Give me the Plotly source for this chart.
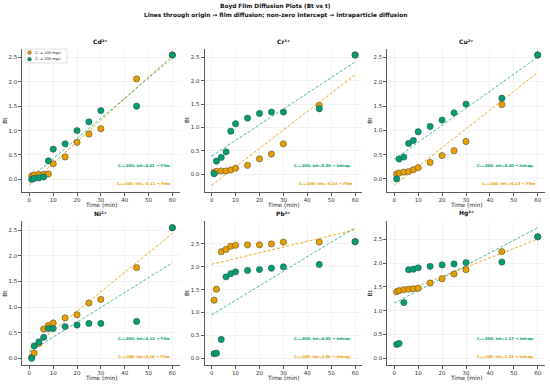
import numpy as np
import plotly.graph_objects as go

time_min = [1, 2, 4, 6, 8, 10, 15, 20, 25, 30, 45, 60]
metals = ["Cd²⁺", "Cr³⁺", "Cu²⁺", "Ni²⁺", "Pb²⁺", "Hg²⁺"]

bt_100 = {
    "Cd²⁺": [0.07, 0.09, 0.10, 0.10, 0.11, 0.32, 0.46, 0.76, 0.93, 1.04, 2.06, 2.55],
    "Cr³⁺": [0.04, 0.06, 0.07, 0.07, 0.09, 0.13, 0.19, 0.33, 0.43, 0.65, 1.47, 2.55],
    "Cu²⁺": [0.10, 0.12, 0.14, 0.15, 0.19, 0.23, 0.34, 0.48, 0.58, 0.77, 1.53, 2.55],
    "Ni²⁺": [0.02, 0.10, 0.29, 0.57, 0.64, 0.69, 0.79, 0.85, 1.08, 1.15, 1.77, 2.55],
    "Pb²⁺": [1.27, 1.51, 2.33, 2.38, 2.45, 2.47, 2.48, 2.48, 2.50, 2.54, 2.54, 2.55],
    "Hg²⁺": [1.40, 1.42, 1.44, 1.45, 1.46, 1.47, 1.58, 1.67, 1.77, 1.86, 2.24, 2.55],
}
bt_200 = {
    "Cd²⁺": [0.00, 0.02, 0.03, 0.05, 0.38, 0.62, 0.73, 1.00, 1.18, 1.41, 1.50, 2.55],
    "Cr³⁺": [0.01, 0.28, 0.36, 0.48, 0.92, 1.08, 1.20, 1.30, 1.33, 1.33, 1.40, 2.55],
    "Cu²⁺": [0.00, 0.41, 0.45, 0.73, 0.79, 0.97, 1.08, 1.21, 1.36, 1.54, 1.66, 2.55],
    "Ni²⁺": [0.00, 0.24, 0.32, 0.41, 0.58, 0.58, 0.62, 0.65, 0.68, 0.68, 0.72, 2.55],
    "Pb²⁺": [0.10, 0.11, 0.41, 1.78, 1.85, 1.89, 1.92, 1.94, 1.97, 2.00, 2.05, 2.55],
    "Hg²⁺": [0.29, 0.31, 1.17, 1.86, 1.87, 1.90, 1.93, 1.96, 1.98, 2.01, 2.02, 2.55],
}
label_200 = {
    "Cd²⁺": "C₀=200: int=0.01 → Film",
    "Cr³⁺": "C₀=200: int=0.38 → Intrap.",
    "Cu²⁺": "C₀=200: int=0.40 → Intrap.",
    "Ni²⁺": "C₀=200: int=0.12 → Film",
    "Pb²⁺": "C₀=200: int=0.95 → Intrap.",
    "Hg²⁺": "C₀=200: int=1.17 → Intrap.",
}
label_100 = {
    "Cd²⁺": "C₀=100: int=-0.11 → Film",
    "Cr³⁺": "C₀=100: int=-0.24 → Film",
    "Cu²⁺": "C₀=100: int=-0.13 → Film",
    "Ni²⁺": "C₀=100: int=0.16 → Film",
    "Pb²⁺": "C₀=100: int=2.05 → Intrap.",
    "Hg²⁺": "C₀=100: int=1.33 → Intrap.",
}
legend_labels = ["C₀ = 100 mg/L", "C₀ = 200 mg/L"]

C100 = "#E69F00"
C200 = "#009E73"
L100 = "rgba(230,159,0,0.85)"
L200 = "rgba(0,158,115,0.7)"
FONT = "DejaVu Sans"

W, H = 550, 387
xdoms = [(22.2, 179.5), (204.5, 362.3), (387.1, 544.9)]
ydoms = [(48.5, 191.7), (221.2, 364.8)]

fig = go.Figure()
annotations = []
shapes = []
layout_axes = {}

for i, m in enumerate(metals):
    r, c = divmod(i, 3)
    k = "" if i == 0 else str(i + 1)
    xa, ya = "x" + k, "y" + k
    t = np.array(time_min, dtype=float)
    y1 = np.array(bt_100[m])
    y2 = np.array(bt_200[m])
    tl = np.array([0.0, 60.0])
    f1 = np.polyval(np.polyfit(t, y1, 1), tl)
    f2 = np.polyval(np.polyfit(t, y2, 1), tl)

    fig.add_trace(go.Scatter(x=tl, y=f1, mode="lines", xaxis=xa, yaxis=ya,
                             line=dict(color=L100, width=1.0, dash="3px,1.8px"), showlegend=False))
    fig.add_trace(go.Scatter(x=tl, y=f2, mode="lines", xaxis=xa, yaxis=ya,
                             line=dict(color=L200, width=1.0, dash="3px,1.8px"), showlegend=False))
    fig.add_trace(go.Scatter(x=t, y=y1, mode="markers", xaxis=xa, yaxis=ya,
                             marker=dict(color=C100, size=6.3, line=dict(color="#444", width=0.5)),
                             showlegend=False))
    fig.add_trace(go.Scatter(x=t, y=y2, mode="markers", xaxis=xa, yaxis=ya,
                             marker=dict(color=C200, size=6.3, line=dict(color="#444", width=0.5)),
                             showlegend=False))

    allv = np.concatenate([y1, y2, f1, f2, [0.0]])
    lo, hi = allv.min(), allv.max()
    pad = 0.05 * (hi - lo)
    x0, x1 = xdoms[c]
    yt, yb = ydoms[r]
    ax_common = dict(showline=True, linecolor="#333", linewidth=0.8, ticks="outside",
                     ticklen=3, tickwidth=0.8, tickcolor="#333", mirror=False, automargin=False,
                     tickfont=dict(size=5.5, color="#333", family=FONT),
                     showgrid=True, gridcolor="#ebebeb", gridwidth=0.6, zeroline=False)
    layout_axes["xaxis" + k] = dict(ax_common, domain=[x0 / W, x1 / W], range=[-3, 63],
                                    anchor=ya, tickvals=[0, 10, 20, 30, 40, 50, 60])
    layout_axes["yaxis" + k] = dict(ax_common, domain=[1 - yb / H, 1 - yt / H], range=[lo - pad, hi + pad],
                                    anchor=xa, tickvals=[0, 0.5, 1.0, 1.5, 2.0, 2.5],
                                    ticktext=["0.0", "0.5", "1.0", "1.5", "2.0", "2.5"])
    annotations.append(dict(text="Time (min)", xref=xa + " domain", yref="paper",
                            x=0.5, y=1 - (yb + 13.5) / H, xanchor="center", yanchor="middle",
                            showarrow=False, font=dict(size=5.8, family=FONT, color="#222")))
    annotations.append(dict(text="Bt", xref="paper", yref=ya + " domain", textangle=-90,
                            x=(x0 - 17.5) / W, y=0.5, xanchor="center", yanchor="middle",
                            showarrow=False, font=dict(size=5.8, family=FONT, color="#222")))
    annotations.append(dict(text="<b>" + m + "</b>", xref=xa + " domain", yref=ya + " domain",
                            x=0.5, y=1.0, yshift=2, xanchor="center", yanchor="bottom", showarrow=False,
                            font=dict(size=6, family=FONT, color="#111")))
    annotations.append(dict(text="<b>" + label_200[m] + "</b>", xref=xa + " domain", yref=ya + " domain",
                            x=0.95, y=0.18, xanchor="right", yanchor="middle", showarrow=False,
                            font=dict(size=3.8, family=FONT, color=C200)))
    annotations.append(dict(text="<b>" + label_100[m] + "</b>", xref=xa + " domain", yref=ya + " domain",
                            x=0.95, y=0.06, xanchor="right", yanchor="middle", showarrow=False,
                            font=dict(size=3.8, family=FONT, color=C100)))

# manual legend in first panel (top-left)
lx0, ly0, lx1, ly1 = 25, 49, 67, 63
shapes.append(dict(type="rect", xref="paper", yref="paper", x0=lx0 / W, x1=lx1 / W,
                   y0=1 - ly1 / H, y1=1 - ly0 / H, line=dict(color="#cccccc", width=0.6),
                   fillcolor="rgba(255,255,255,0.9)", layer="above"))
for j, (lab, col) in enumerate(zip(legend_labels, [C100, C200])):
    cy = ly0 + 3.6 + j * 6.6
    shapes.append(dict(type="circle", xref="paper", yref="paper", xsizemode="pixel", ysizemode="pixel",
                       xanchor=(lx0 + 4.5) / W, yanchor=1 - cy / H, x0=-1.9, x1=1.9, y0=-1.9, y1=1.9,
                       fillcolor=col, line=dict(color="#444", width=0.4), layer="above"))
    annotations.append(dict(text=lab, xref="paper", yref="paper", x=(lx0 + 8) / W, y=1 - cy / H,
                            xanchor="left", yanchor="middle", showarrow=False,
                            font=dict(size=3.6, family=FONT, color="#222")))

annotations.append(dict(text="<b>Boyd Film Diffusion Plots (Bt vs t)</b>", xref="paper", yref="paper",
                        x=0.5, y=1 - 6.5 / H, xanchor="center", yanchor="middle", showarrow=False,
                        font=dict(size=5.8, family=FONT, color="#111")))
annotations.append(dict(text="<b>Lines through origin → film diffusion; non-zero intercept → intraparticle diffusion</b>",
                        xref="paper", yref="paper",
                        x=0.5, y=1 - 15.5 / H, xanchor="center", yanchor="middle", showarrow=False,
                        font=dict(size=5.8, family=FONT, color="#111")))

fig.update_layout(
    width=W, height=H, margin=dict(l=0, r=0, t=0, b=0),
    paper_bgcolor="white", plot_bgcolor="white",
    font=dict(family=FONT),
    annotations=annotations,
    shapes=shapes,
    showlegend=False,
    hovermode=False,
    **layout_axes,
)

fig.write_html("out.html", config={"displayModeBar": False, "staticPlot": True},
               post_script="document.body.style.margin='0';document.body.style.padding='0';")
